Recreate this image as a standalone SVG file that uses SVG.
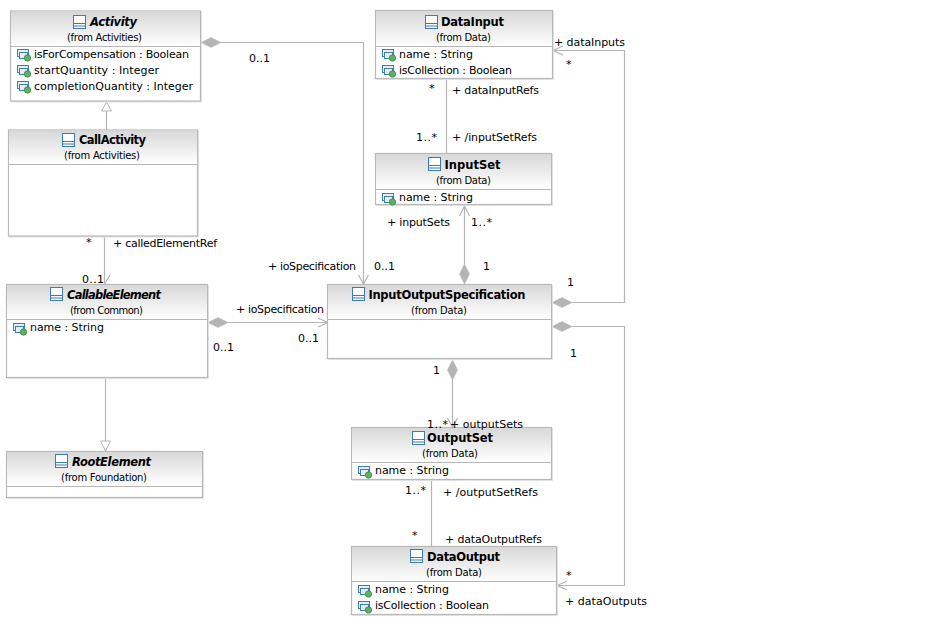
<svg xmlns="http://www.w3.org/2000/svg" width="929" height="617" viewBox="0 0 929 617">
<style>
text{font-family:"DejaVu Sans",Verdana,sans-serif;font-size:11px;fill:#000}
.t{font-weight:bold;font-size:11.500px}
.i{font-style:italic}
.f{font-size:10px}
.b{fill:#fff;stroke:#b8b8b8;stroke-width:1.2;filter:drop-shadow(1px 1px 0 #e6e6e6)}
.h{fill:url(#g)}
.s{stroke:#b8b8b8;fill:none}
.l{stroke:#b4b4b4;fill:none;stroke-width:1.2}
.d{fill:#b4b4b4;stroke:#b4b4b4;stroke-width:.5}
.o{fill:#fff;stroke:#b4b4b4}
.ci{fill:#fff;stroke:#3d7ab8;stroke-width:1}
.cl{stroke:#3d7ab8;fill:none}
.a1{fill:#e6eef5;stroke:#3f7fae;stroke-width:1}
.a2{fill:#5fb35f;stroke:#2f7f3f;stroke-width:.7}
</style>
<defs>
<linearGradient id="g" x1="0" y1="0" x2="0" y2="1"><stop offset="0" stop-color="#d8d8d8"/><stop offset="1" stop-color="#fff"/></linearGradient>
<g id="ci"><rect class="ci" x=".5" y=".5" width="12" height="13"/><path class="cl" d="M.5 8.500H12.500M.5 11H12.500"/></g>
<g id="at"><rect class="a1" x=".5" y=".5" width="11" height="7"/><rect class="a1" x="2.500" y="3.500" width="8" height="6"/><circle class="a2" cx="10.500" cy="9" r="3.200"/></g>
</defs>
<rect width="929" height="617" fill="#fff"/>
<g id="connectors">
<path class="l" d="M106.500 130V102"/><path class="o" d="M106.500 102L101.500 111H111.500Z"/>
<path class="l" d="M220 42.500H363.500V284"/><path class="d" d="M201 42.500L211 37.500L221 42.500L211 47.500Z"/><path class="l" d="M358.500 275L363.500 284L368.500 275"/>
<path class="l" d="M104.500 237V284"/><path class="l" d="M104.500 284L110 275"/>
<path class="l" d="M105.500 378V451"/><path class="o" d="M105.500 451L100.500 441H110.500Z"/>
<path class="l" d="M228 322.500H328"/><path class="d" d="M208 322.500L218 317.500L228 322.500L218 327.500Z"/><path class="l" d="M318 318L328 322.500L318 327"/>
<path class="l" d="M446.500 79V153"/>
<path class="l" d="M464.500 264V206"/><path class="d" d="M464.500 284L459.500 274L464.500 264L469.500 274Z"/><path class="l" d="M459.500 216L464.500 206L469.500 216"/>
<path class="l" d="M572 302.500H624.500V50.500H553"/><path class="d" d="M552 302.500L562 297.500L572 302.500L562 307.500Z"/><path class="l" d="M563 46L553 50.500L563 55"/>
<path class="l" d="M572 326.500H624.500V585.500H557"/><path class="d" d="M552 326.500L562 321.500L572 326.500L562 331.500Z"/><path class="l" d="M567 581L557 585.500L567 590"/>
<path class="l" d="M452.500 380V427"/><path class="d" d="M452.500 360L457.500 370L452.500 380L447.500 370Z"/><path class="l" d="M447.500 418L452.500 427L457.500 418"/>
<path class="l" d="M431.500 480V546"/>
</g>
<g id="Activity"><rect class="b" x="10.500" y="11" width="190" height="90"/><rect class="h" x="11" y="12" width="189" height="34"/><path class="s" d="M10 46.500H201"/>
<use href="#ci" x="73" y="15"/><text class="t i" x="90" y="25.500" textLength="47">Activity</text><text class="f" x="67" y="41" textLength="75">(from Activities)</text>
<use href="#at" x="17" y="49"/><text x="34" y="58" textLength="155">isForCompensation : Boolean</text>
<use href="#at" x="17" y="65"/><text x="34" y="74" textLength="125">startQuantity : Integer</text>
<use href="#at" x="17" y="81"/><text x="34" y="90" textLength="159">completionQuantity : Integer</text></g>
<g id="CallActivity"><rect class="b" x="8.500" y="130" width="189" height="106"/><rect class="h" x="9" y="131" width="188" height="33"/><path class="s" d="M8 164.500H198"/>
<use href="#ci" x="62" y="133"/><text class="t" x="79" y="143.500" textLength="67">CallActivity</text><text class="f" x="64" y="159" textLength="76">(from Activities)</text></g>
<g id="CallableElement"><rect class="b" x="6.500" y="284.500" width="201" height="93"/><rect class="h" x="7" y="285" width="200" height="34"/><path class="s" d="M7 319.500H208"/>
<use href="#ci" x="50" y="287"/><text class="t i" x="67" y="298.500" textLength="94">CallableElement</text><text class="f" x="70" y="314" textLength="73">(from Common)</text>
<use href="#at" x="13" y="323"/><text x="30" y="331" textLength="74">name : String</text></g>
<g id="RootElement"><rect class="b" x="6.500" y="451.500" width="196" height="46"/><rect class="h" x="7" y="452" width="195" height="33"/><path class="s" d="M7 486.500H202"/>
<use href="#ci" x="55" y="454"/><text class="t i" x="72" y="465.500" textLength="79">RootElement</text><text class="f" x="61" y="481" textLength="86">(from Foundation)</text></g>
<g id="DataInput"><rect class="b" x="375.500" y="10.500" width="177" height="68"/><rect class="h" x="376" y="11" width="176" height="35"/><path class="s" d="M376 46.500H553"/>
<use href="#ci" x="425" y="15"/><text class="t" x="441" y="25.500" textLength="63">DataInput</text><text class="f" x="436" y="41" textLength="55">(from Data)</text>
<use href="#at" x="382" y="49"/><text x="399" y="58" textLength="74">name : String</text>
<use href="#at" x="382" y="65"/><text x="399" y="74" textLength="113">isCollection : Boolean</text></g>
<g id="InputSet"><rect class="b" x="375.500" y="153.500" width="176" height="51"/><rect class="h" x="376" y="154" width="175" height="35"/><path class="s" d="M376 189.500H551"/>
<use href="#ci" x="428" y="157"/><text class="t" x="444.500" y="168.500" textLength="56">InputSet</text><text class="f" x="436" y="184" textLength="55">(from Data)</text>
<use href="#at" x="382" y="193"/><text x="399" y="201" textLength="74">name : String</text></g>
<g id="InputOutputSpecification"><rect class="b" x="327.500" y="284.500" width="224" height="74"/><rect class="h" x="328" y="285" width="223" height="34"/><path class="s" d="M328 319.500H551"/>
<use href="#ci" x="352" y="287"/><text class="t" x="368.500" y="298.500" textLength="157">InputOutputSpecification</text><text class="f" x="411" y="314" textLength="56">(from Data)</text></g>
<g id="OutputSet"><rect class="b" x="351.500" y="427.500" width="200" height="52"/><rect class="h" x="352" y="428" width="199" height="34"/><path class="s" d="M352 462.500H551"/>
<use href="#ci" x="412" y="431"/><text class="t" x="427" y="441.500" textLength="66">OutputSet</text><text class="f" x="422" y="457" textLength="56">(from Data)</text>
<use href="#at" x="358" y="466"/><text x="375" y="474" textLength="74">name : String</text></g>
<g id="DataOutput"><rect class="b" x="351.500" y="546.500" width="205" height="68"/><rect class="h" x="352" y="547" width="204" height="35"/><path class="s" d="M352 581.500H556"/>
<use href="#ci" x="410" y="549"/><text class="t" x="427" y="560.500" textLength="73">DataOutput</text><text class="f" x="426" y="576" textLength="56">(from Data)</text>
<use href="#at" x="358" y="585"/><text x="375" y="593" textLength="74">name : String</text>
<use href="#at" x="358" y="601"/><text x="375" y="609" textLength="114">isCollection : Boolean</text></g>
<g id="labels">
<text x="249" y="62">0..1</text><text x="86" y="246">*</text><text x="113" y="247" textLength="104">+ calledElementRef</text><text x="82" y="283" textLength="22">0..1</text>
<text x="268" y="270" textLength="88">+ ioSpecification</text><text x="374" y="270">0..1</text><text x="236" y="313" textLength="88">+ ioSpecification</text><text x="213" y="351">0..1</text><text x="298" y="342">0..1</text>
<text x="554" y="46" textLength="71">+ dataInputs</text><text x="566" y="68">*</text><text x="429" y="92">*</text><text x="452" y="94" textLength="87">+ dataInputRefs</text><text x="416" y="141" textLength="21">1..*</text><text x="452" y="141" textLength="85">+ /inputSetRefs</text>
<text x="387" y="226" textLength="63">+ inputSets</text><text x="471" y="226" textLength="21">1..*</text><text x="483" y="270">1</text><text x="567" y="286">1</text><text x="570" y="357">1</text><text x="433" y="374">1</text>
<text x="427" y="428" textLength="21">1..*</text><text x="450" y="428" textLength="73">+ outputSets</text><text x="405" y="494" textLength="21">1..*</text><text x="443" y="496" textLength="95">+ /outputSetRefs</text><text x="412" y="539">*</text><text x="445" y="543" textLength="97">+ dataOutputRefs</text><text x="566" y="579">*</text><text x="565" y="605" textLength="82">+ dataOutputs</text>
</g>
</svg>
